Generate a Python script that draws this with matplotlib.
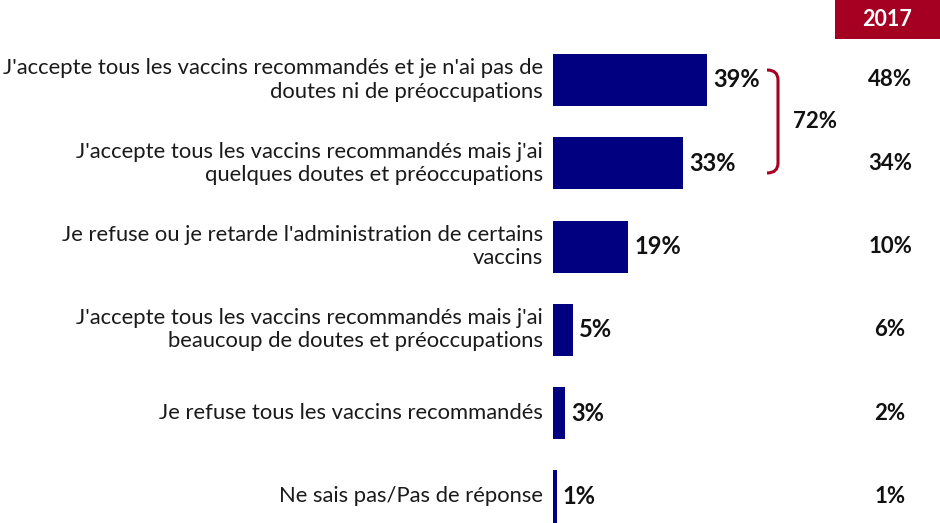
import matplotlib
matplotlib.use("Agg")
import matplotlib.pyplot as plt
from matplotlib.patches import Rectangle
from matplotlib.path import Path
from matplotlib.patches import PathPatch

categories = [
    "J'accepte tous les vaccins recommandés et je n'ai pas de\ndoutes ni de préoccupations",
    "J'accepte tous les vaccins recommandés mais j'ai\nquelques doutes et préoccupations",
    "Je refuse ou je retarde l'administration de certains\nvaccins",
    "J'accepte tous les vaccins recommandés mais j'ai\nbeaucoup de doutes et préoccupations",
    "Je refuse tous les vaccins recommandés",
    "Ne sais pas/Pas de réponse",
]
values_current = [39, 33, 19, 5, 3, 1]
values_2017 = [48, 34, 10, 6, 2, 1]
column_header = "2017"
bracket_total = "72%"

plt.rcParams['font.family'] = ['Lato', 'DejaVu Sans']

W, H, DPI = 940, 523, 100
fig = plt.figure(figsize=(W / DPI, H / DPI), dpi=DPI)
ax = fig.add_axes([0, 0, 1, 1])

px_per = 3.95
x0 = 553
ax.set_xlim(-x0 / px_per, (W - x0) / px_per)
yc0, dy = 80, 83.3
ax.set_ylim((H - yc0) / dy, -yc0 / dy)
ax.axis('off')

navy = '#000080'
red = '#A50021'
ys = list(range(len(categories)))
ax.barh(ys, values_current, height=0.625, color=navy, left=0)

for y, cat, v, v17 in zip(ys, categories, values_current, values_2017):
    ax.annotate(cat, (0, y), xytext=(-10, 0), textcoords='offset pixels',
                ha='right', va='center', fontsize=15.8, color='#1a1a1a',
                linespacing=1.2)
    ax.annotate(f"{v}%", (v, y), xytext=(6, 0), textcoords='offset pixels',
                ha='left', va='center', fontsize=17, fontweight='bold', color='#111111')
    ax.text((890 - x0) / px_per, y, f"{v17}%", ha='center', va='center',
            fontsize=16, fontweight='bold', color='#111111')

# header box (pixel overlay)
ov = fig.add_axes([0, 0, 1, 1], facecolor='none')
ov.set_xlim(0, W)
ov.set_ylim(H, 0)
ov.axis('off')
ov.add_patch(Rectangle((835, 0), 105, 39, color=red, lw=0))
ov.text(887, 20, column_header, ha='center', va='center', color='white',
        fontsize=15.5, fontweight='bold')

# bracket
verts = [(767, 70), (778, 70), (778, 80), (778, 163), (778, 173), (767, 173)]
codes = [Path.MOVETO, Path.CURVE3, Path.CURVE3, Path.LINETO, Path.CURVE3, Path.CURVE3]
ov.add_patch(PathPatch(Path(verts, codes), fill=False, edgecolor=red, lw=2.2))
ov.text(815, 122, bracket_total, ha='center', va='center', fontsize=16,
        fontweight='bold', color='#111111')

fig.savefig("out.png", dpi=DPI)
